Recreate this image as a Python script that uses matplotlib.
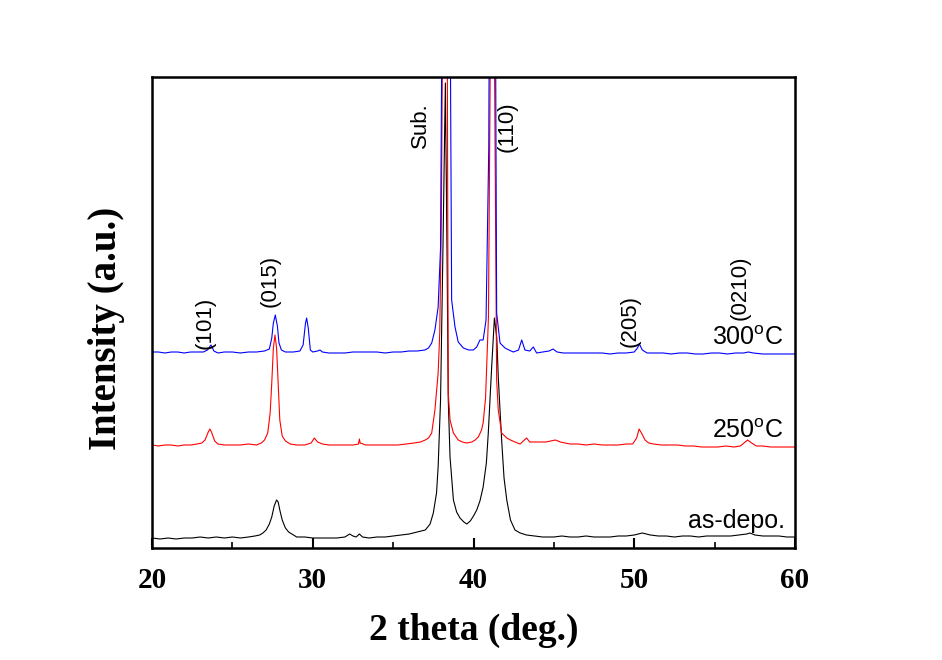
import matplotlib
matplotlib.use("Agg")
import matplotlib.pyplot as plt
from matplotlib.ticker import MultipleLocator

plt.rcParams['mathtext.fontset'] = 'custom'
plt.rcParams['mathtext.rm'] = 'Liberation Sans'

# ---- data (2theta in deg, intensity in a.u., already offset) ----
asdepo_x = [20.0, 20.5, 21.0, 21.5, 22.0, 22.5, 23.0, 23.5, 24.0, 24.5, 25.0, 25.5, 26.0, 26.4, 26.7, 26.9,
            27.1, 27.3, 27.45, 27.6, 27.75, 27.85, 27.95, 28.1, 28.3, 28.5, 28.8, 29.0, 29.5, 30.0, 30.5,
            31.0, 31.5, 32.0, 32.3, 32.5, 32.7, 32.9, 33.1, 33.5, 34.0, 34.5, 35.0, 35.5, 36.0, 36.5, 37.0,
            37.3, 37.5, 37.7, 37.8, 37.95, 38.1, 38.25, 38.35, 38.43, 38.54, 38.75, 38.95, 39.16, 39.4,
            39.58, 39.8, 40.0, 40.2, 40.4, 40.6, 40.8, 40.92, 41.13, 41.3, 41.45, 41.54, 41.75, 41.9, 42.07,
            42.3, 42.58, 42.9, 43.3, 43.8, 44.3, 45.0, 45.5, 46.0, 46.5, 47.0, 47.5, 48.0, 48.5, 49.0, 49.5,
            50.0, 50.5, 51.0, 51.5, 52.0, 52.5, 53.0, 53.5, 54.0, 54.5, 55.0, 55.5, 56.0, 56.5, 57.0, 57.2,
            57.5, 58.0, 58.5, 59.0, 59.5, 60.0]
asdepo_y = [10, 9, 10, 9, 10, 10, 11, 10, 11, 10, 11, 10, 11, 12, 13, 15,
            18, 24, 31, 42, 48, 46, 38, 28, 20, 16, 13, 11, 11, 10, 10,
            10, 10, 11, 14, 12, 11, 14, 11, 10, 11, 11, 12, 13, 14, 16, 18,
            24, 35, 55, 81, 148, 300, 465, 300, 148, 91, 48, 36, 30, 26,
            24, 27, 32, 38, 47, 61, 85, 115, 181, 230, 210, 171, 108, 70, 48,
            28, 18, 15, 13, 12, 11, 11, 12, 11, 11, 12, 11, 11, 11, 12, 12,
            13, 15, 13, 12, 12, 11, 12, 12, 11, 12, 12, 12, 12, 13, 14, 15,
            13, 12, 12, 12, 11, 11]

t250_x = [20.0, 20.4, 20.8, 21.2, 21.6, 22.0, 22.4, 22.8, 23.1, 23.3, 23.5, 23.6, 23.7, 23.9, 24.1, 24.5,
          25.0, 25.5, 26.0, 26.5, 26.8, 27.0, 27.2, 27.35, 27.45, 27.55, 27.65, 27.75, 27.85, 27.95, 28.1,
          28.3, 28.6, 29.0, 29.5, 29.9, 30.1, 30.3, 30.6, 31.0, 31.5, 32.0, 32.5, 32.85, 32.9, 32.95, 33.3,
          33.8, 34.3, 34.8, 35.3, 35.8, 36.3, 36.7, 37.0, 37.2, 37.4, 37.6, 37.8, 37.9, 38.0, 38.15, 38.25,
          38.35, 38.43, 38.54, 38.75, 39.05, 39.3, 39.58, 39.9, 40.1, 40.3, 40.5, 40.6, 40.75, 40.82, 40.93,
          41.05, 41.2, 41.3, 41.44, 41.54, 41.75, 42.07, 42.3, 42.58, 42.9, 43.3, 43.5, 44.0, 44.5, 45.1,
          45.4, 46.0, 46.5, 47.0, 47.5, 48.0, 48.5, 49.0, 49.5, 49.9, 50.15, 50.3, 50.45, 50.67, 50.9, 51.2,
          51.7, 52.2, 52.7, 53.2, 53.7, 54.2, 54.7, 55.2, 55.7, 56.2, 56.6, 56.9, 57.05, 57.3, 57.6, 58.0,
          58.5, 59.0, 59.5, 60.0]
t250_y = [103, 102, 103, 103, 102, 103, 103, 104, 105, 108, 116, 119, 116, 107, 104, 103,
          103, 103, 104, 103, 105, 108, 115, 135, 165, 200, 213, 200, 165, 128, 112,
          107, 104, 103, 103, 105, 110, 106, 104, 103, 103, 103, 103, 104, 109, 105, 103,
          103, 103, 103, 103, 104, 105, 106, 108, 110, 115, 138, 175, 215, 330, 700, 1000,
          600, 155, 128, 115, 108, 106, 105, 106, 108, 111, 118, 125, 150, 181, 231,
          500, 1000, 500, 168, 138, 115, 110, 108, 106, 104, 110, 106, 106, 106, 108,
          106, 104, 104, 103, 104, 103, 103, 103, 104, 104, 110, 119, 115, 108, 105, 104,
          103, 103, 103, 102, 102, 101, 101, 101, 102, 101, 102, 106, 108, 105, 102, 102,
          101, 101, 101, 101]

t300_x = [20.0, 20.4, 20.8, 21.2, 21.6, 22.0, 22.4, 22.8, 23.2, 23.45, 23.67, 23.85, 24.1, 24.5, 25.0,
          25.5, 26.0, 26.5, 27.0, 27.3, 27.45, 27.55, 27.67, 27.8, 27.9, 28.05, 28.3, 28.8, 29.2, 29.4,
          29.55, 29.62, 29.72, 29.85, 30.0, 30.3, 30.45, 30.6, 31.0, 31.5, 32.0, 32.5, 33.0, 33.5, 34.0,
          34.5, 35.0, 35.5, 36.0, 36.5, 36.98, 37.2, 37.4, 37.6, 37.8, 37.95, 38.1, 38.3, 38.5, 38.64,
          38.85, 39.05, 39.37, 39.7, 39.99, 40.2, 40.4, 40.6, 40.78, 40.95, 41.1, 41.3, 41.35, 41.44,
          41.65, 41.96, 42.2, 42.48, 42.8, 43.0, 43.2, 43.5, 43.72, 43.93, 44.3, 44.7, 44.95, 45.2, 45.6,
          46.0, 46.5, 47.0, 47.5, 48.0, 48.5, 49.0, 49.5, 50.0, 50.2, 50.32, 50.5, 50.8, 51.3, 51.8, 52.3,
          52.8, 53.3, 53.8, 54.3, 54.8, 55.3, 55.8, 56.3, 56.8, 57.1, 57.4, 58.0, 58.5, 59.0, 59.5, 60.0]
t300_y = [196, 196, 195, 196, 196, 195, 196, 196, 196, 198, 203, 197, 195, 196, 196,
          195, 196, 196, 197, 199, 210, 225, 233, 222, 205, 198, 196, 196, 197, 203,
          225, 230, 220, 198, 196, 197, 198, 196, 195, 195, 195, 196, 196, 196, 196,
          195, 196, 196, 197, 197, 198, 200, 205, 218, 241, 300, 700, 1000, 700, 248,
          221, 206, 200, 198, 198, 201, 208, 208, 228, 400, 1000, 900, 600, 235,
          205, 200, 198, 196, 198, 208, 198, 197, 201, 195, 196, 197, 199, 196, 195,
          195, 195, 195, 195, 195, 194, 195, 195, 196, 200, 204, 198, 195, 195, 195, 194,
          195, 195, 194, 194, 195, 195, 194, 195, 195, 196, 195, 194, 194, 194, 194, 194]

peak_labels = ['(101)', '(015)', 'Sub.', '(110)', '(205)', '(0210)']
peak_label_x = [23.3, 27.35, 36.67, 42.07, 49.74, 56.58]
peak_label_y = [225, 267, 423, 421, 227, 260]

series_labels = [r'300$^{\rm o}$C', r'250$^{\rm o}$C', 'as-depo.']
series_label_y = [203, 110, 20]
series_label_x = [59.25, 59.25, 59.38]

xticks = [20, 30, 40, 50, 60]

# ---- figure ----
fig = plt.figure(figsize=(9.42, 6.6), dpi=100)
ax = fig.add_axes([152/942, 1-548/660, (795-152)/942, (548-77)/660])

ax.plot(asdepo_x, asdepo_y, color='black', lw=0.8)
ax.plot(t250_x, t250_y, color='red', lw=0.8)
ax.plot(t300_x, t300_y, color='blue', lw=0.8)

ax.set_xlim(20, 60)
ax.set_ylim(0, 471)
ax.set_yticks([])
ax.set_xticks(xticks)
ax.xaxis.set_minor_locator(MultipleLocator(5))
ax.tick_params(axis='x', which='major', direction='in', length=7, width=1.5, pad=14)
ax.tick_params(axis='x', which='minor', direction='in', length=4, width=1.2)
for lbl in ax.get_xticklabels():
    lbl.set_fontfamily('Liberation Serif')
    lbl.set_fontweight('bold')
    lbl.set_fontsize(21)
for sp in ax.spines.values():
    sp.set_linewidth(1.8)

ax.set_xlabel('2 theta (deg.)', fontfamily='Liberation Serif', fontweight='bold', fontsize=27)
ax.xaxis.set_label_coords(0.5, (548 - 613) / 471)
ax.set_ylabel('Intensity (a.u.)', fontfamily='Liberation Serif', fontweight='bold', fontsize=28)
ax.yaxis.set_label_coords((125 - 152) / 643, (548 - 328) / 471)

for t, x, y in zip(peak_labels, peak_label_x, peak_label_y):
    ax.text(x, y, t, rotation=90, ha='center', va='center', fontfamily='Liberation Sans', fontsize=16)

for t, x, y in zip(series_labels, series_label_x, series_label_y):
    ax.text(x, y, t, ha='right', va='baseline', fontfamily='Liberation Sans', fontsize=18)

fig.savefig('out.png', dpi=100)
